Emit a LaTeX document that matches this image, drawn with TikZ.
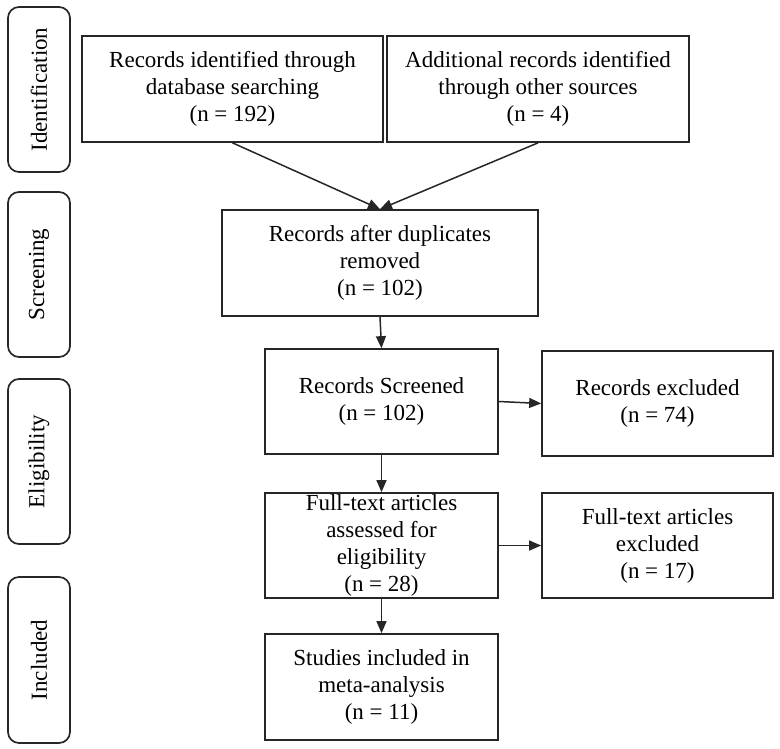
\documentclass[tikz,border=0pt]{standalone}
\usepackage{fontspec}
\setmainfont{Liberation Serif}
\usetikzlibrary{arrows.meta}
\begin{document}
\begin{tikzpicture}[x=1pt,y=-1pt,
  box/.style={draw=black!85, line width=1.7pt, align=center, inner sep=0pt,
    font=\fontsize{23}{27}\selectfont},
  phase/.style={draw=black!85, line width=1.7pt, rounded corners=11pt, rotate=90,
    inner sep=0pt, font=\fontsize{23}{27}\selectfont},
  arr/.style={-{Triangle[length=12pt,width=10pt]}, line width=1.5pt, draw=black!85}]
\useasboundingbox (0,0) rectangle (780,749);
% phase labels
\node[phase, minimum width=165pt, minimum height=62pt] (p1) at (39,89.5) {Identification};
\node[phase, minimum width=165pt, minimum height=62pt] (p2) at (39,274.5) {Screening};
\node[phase, minimum width=165pt, minimum height=62pt] (p3) at (39,461.5) {Eligibility};
\node[phase, minimum width=166pt, minimum height=62pt] (p4) at (39,660) {Included};
% boxes
\node[box, minimum width=301pt, minimum height=106pt] (rid) at (232.5,89) {Records identified through\\database searching\\(n = 192)};
\node[box, minimum width=302pt, minimum height=106pt] (add) at (538,89) {Additional records identified\\through other sources\\(n = 4)};
\node[box, minimum width=316pt, minimum height=106pt] (dup) at (380,263) {Records after duplicates\\removed\\(n = 102)};
\node[box, minimum width=233pt, minimum height=105pt] (scr) at (381.5,401.5) {Records Screened\\(n = 102)};
\node[box, minimum width=231pt, minimum height=105pt] (exc) at (657.5,403.5) {Records excluded\\(n = 74)};
\node[box, minimum width=233pt, minimum height=105pt] (ful) at (381.5,545.5) {Full-text articles\\assessed for\\eligibility\\(n = 28)};
\node[box, minimum width=231pt, minimum height=105pt] (fex) at (657.5,545.5) {Full-text articles\\excluded\\(n = 17)};
\node[box, minimum width=233pt, minimum height=106pt] (inc) at (381.5,687) {Studies included in\\meta-analysis\\(n = 11)};
% connectors
\draw[arr] (rid.south) -- (dup.north);
\draw[arr] (add.south) -- (dup.north);
\draw[arr] (dup.south) -- (scr.north);
\draw[arr] (scr.east) -- (exc.west);
\draw[arr] (scr.south) -- (ful.north);
\draw[arr] (ful.east) -- (fex.west);
\draw[arr] (ful.south) -- (inc.north);
\end{tikzpicture}
\end{document}
